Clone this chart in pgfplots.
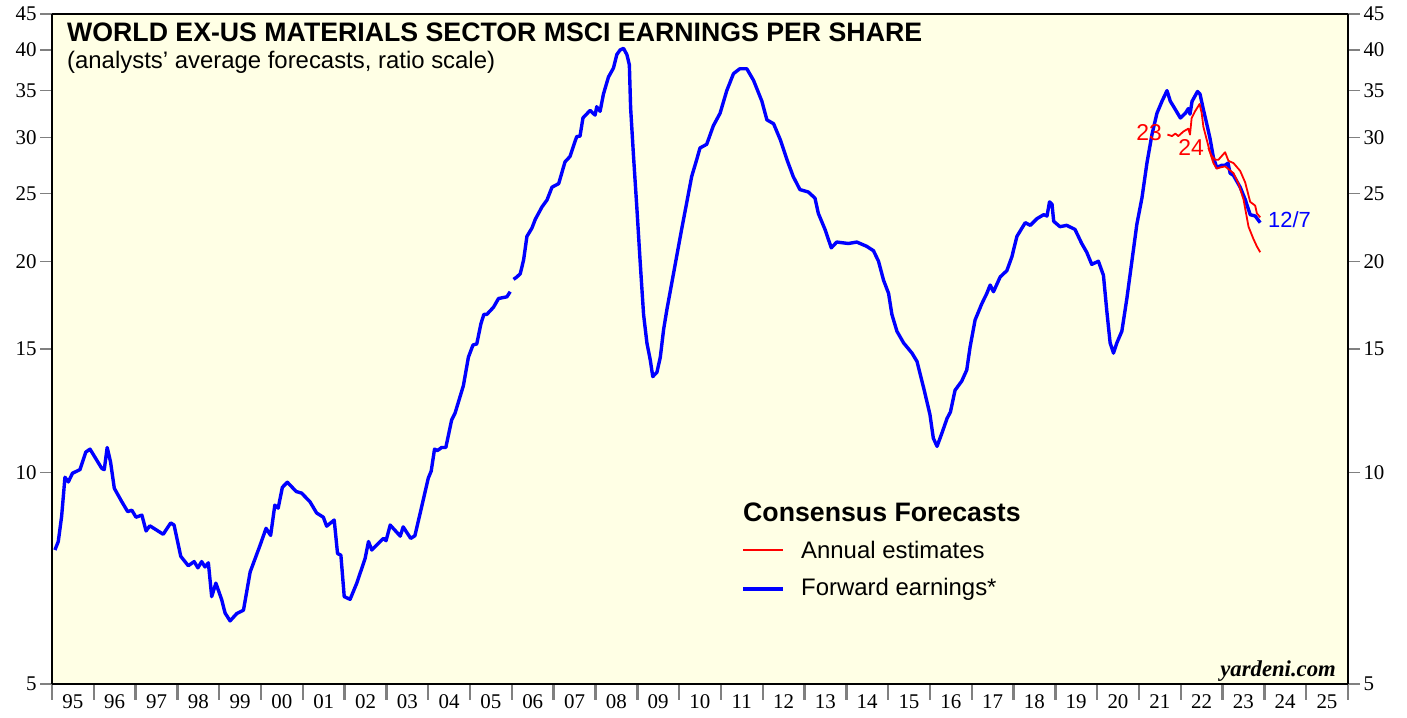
\documentclass[border=0pt]{standalone}
\usepackage{pgfplots}
\pgfplotsset{compat=1.18}
\usepackage{fontspec}
\setmainfont{Liberation Serif}
\newfontfamily\arial{Liberation Sans}
\definecolor{bgyellow}{RGB}{255,255,229}
\definecolor{fblue}{RGB}{0,0,255}
\definecolor{ared}{RGB}{255,0,0}
\begin{document}
\begin{tikzpicture}[x=1bp,y=1bp]
\path[use as bounding box] (-52,-33) rectangle (1355,684);
\begin{axis}[
  at={(0,0)}, anchor=south west,
  scale only axis, width=1296bp, height=670bp,
  xmin=1995, xmax=2026, ymin=5, ymax=45, ymode=log,
  yminorticks=false, xminorticks=false,
  unbounded coords=jump,
  axis background/.style={fill=bgyellow},
  axis line style={line width=2.4bp},
  tick align=outside,
  xtick pos=left,
  ytick=\empty,
  xtick={1995,1996,...,2026}, xticklabels={},
  xtick style={line width=2.4bp},
  major tick length=16bp,
  extra x ticks={1995.5,1996.5,...,2025.5},
  extra x tick labels={95,96,97,98,99,00,01,02,03,04,05,06,07,08,09,10,11,12,13,14,15,16,17,18,19,20,21,22,23,24,25},
  extra x tick style={major tick length=0pt, tick style={draw=none}, xticklabel style={yshift=-7bp}},
  ticklabel style={font=\fontsize{21}{25}\selectfont},
  clip=false,
]
\addplot[fblue, line width=3.4bp, line join=round] coordinates {
(1995.07,7.76) (1995.15,7.98) (1995.23,8.66) (1995.31,9.85) (1995.39,9.70) (1995.49,9.98)
(1995.67,10.10) (1995.81,10.70) (1995.91,10.80) (1996.19,10.14) (1996.25,10.10) (1996.32,10.86)
(1996.40,10.36) (1996.49,9.50) (1996.67,9.09) (1996.81,8.80) (1996.91,8.84) (1997.01,8.64)
(1997.15,8.70) (1997.25,8.26) (1997.34,8.40) (1997.66,8.17) (1997.84,8.48) (1997.92,8.42)
(1998.08,7.60) (1998.26,7.37) (1998.40,7.47) (1998.49,7.32) (1998.58,7.47) (1998.66,7.34)
(1998.74,7.44) (1998.82,6.66) (1998.92,6.96) (1999.06,6.59) (1999.14,6.31) (1999.26,6.15)
(1999.42,6.30) (1999.58,6.37) (1999.74,7.22) (1999.98,7.89) (2000.12,8.33) (2000.23,8.14)
(2000.33,8.99) (2000.41,8.90) (2000.51,9.53) (2000.63,9.69) (2000.84,9.40) (2000.97,9.35)
(2001.17,9.09) (2001.33,8.76) (2001.49,8.64) (2001.57,8.39) (2001.75,8.56) (2001.83,7.67)
(2001.91,7.63) (2001.99,6.66) (2002.13,6.60) (2002.29,6.96) (2002.49,7.55) (2002.57,7.98)
(2002.65,7.76) (2002.85,7.98) (2002.93,8.06) (2002.99,8.00) (2003.09,8.42) (2003.33,8.12)
(2003.40,8.37) (2003.58,8.06) (2003.68,8.13) (2003.84,8.93) (2004.00,9.82) (2004.07,10.05)
(2004.15,10.80) (2004.22,10.75) (2004.32,10.86) (2004.42,10.86) (2004.56,11.89) (2004.64,12.15)
(2004.84,13.30) (2004.96,14.60) (2005.07,15.20) (2005.16,15.25) (2005.26,16.30) (2005.33,16.80)
(2005.40,16.80) (2005.56,17.20) (2005.68,17.70) (2005.88,17.80) (2005.96,18.10)
(2006.00,nan)
(2006.04,18.85) (2006.12,19.00) (2006.20,19.20) (2006.28,20.08) (2006.36,21.70) (2006.48,22.30)
(2006.56,22.95) (2006.72,23.90) (2006.84,24.45) (2006.96,25.50) (2007.12,25.80) (2007.27,27.70)
(2007.39,28.20) (2007.55,30.10) (2007.63,30.15) (2007.70,32.00) (2007.87,32.80) (2007.99,32.30)
(2008.03,33.20) (2008.11,32.70) (2008.19,34.60) (2008.31,36.60) (2008.43,37.70) (2008.51,39.40)
(2008.59,40.00) (2008.67,40.20) (2008.75,39.40) (2008.81,38.10) (2008.84,33.10) (2008.91,28.20)
(2008.99,23.80) (2009.07,19.90) (2009.15,16.80) (2009.23,15.30) (2009.31,14.47) (2009.37,13.70)
(2009.47,13.90) (2009.55,14.60) (2009.63,16.00) (2009.71,17.10) (2009.83,18.70) (2009.94,20.30)
(2010.06,22.20) (2010.18,24.20) (2010.30,26.40) (2010.42,27.90) (2010.50,29.00) (2010.66,29.35)
(2010.82,31.20) (2010.98,32.50) (2011.14,35.00) (2011.30,37.00) (2011.45,37.60) (2011.62,37.60)
(2011.78,36.20) (2011.98,33.80) (2012.10,31.80) (2012.26,31.40) (2012.42,29.80) (2012.58,27.90)
(2012.73,26.40) (2012.89,25.30) (2013.09,25.10) (2013.25,24.60) (2013.33,23.40) (2013.49,22.20)
(2013.64,20.90) (2013.77,21.30) (2014.05,21.20) (2014.25,21.30) (2014.49,21.00) (2014.65,20.70)
(2014.77,20.00) (2014.89,18.80) (2015.01,18.00) (2015.09,16.80) (2015.21,15.90) (2015.37,15.30)
(2015.57,14.80) (2015.69,14.40) (2015.85,13.20) (2016.00,12.10) (2016.08,11.20) (2016.17,10.90)
(2016.29,11.40) (2016.41,11.95) (2016.49,12.20) (2016.60,13.10) (2016.76,13.50) (2016.88,14.00)
(2016.96,15.10) (2017.08,16.50) (2017.24,17.40) (2017.36,18.00) (2017.44,18.50) (2017.52,18.10)
(2017.68,19.00) (2017.84,19.40) (2017.96,20.30) (2018.08,21.70) (2018.28,22.70) (2018.40,22.50)
(2018.56,23.00) (2018.72,23.30) (2018.80,23.20) (2018.86,24.30) (2018.92,24.10) (2018.96,22.80)
(2019.11,22.40) (2019.27,22.50) (2019.47,22.20) (2019.63,21.20) (2019.75,20.60) (2019.87,19.80)
(2020.03,20.00) (2020.15,19.10) (2020.23,17.00) (2020.31,15.30) (2020.39,14.80) (2020.47,15.30)
(2020.59,15.90) (2020.71,17.70) (2020.83,20.00) (2020.95,22.60) (2021.07,24.60) (2021.19,27.60)
(2021.31,30.30) (2021.43,32.50) (2021.55,33.80) (2021.67,35.00) (2021.75,33.80) (2021.83,33.20)
(2021.99,32.00) (2022.11,32.50) (2022.18,33.00) (2022.22,32.40) (2022.27,33.80) (2022.40,34.90)
(2022.46,34.60) (2022.54,32.90) (2022.62,31.40) (2022.70,29.90) (2022.78,28.10) (2022.86,27.20)
(2022.98,27.40) (2023.06,27.40) (2023.13,27.60) (2023.18,26.70) (2023.26,26.50) (2023.42,25.50)
(2023.54,24.50) (2023.66,23.30) (2023.78,23.20) (2023.90,22.70)
};
\addplot[ared, line width=1.8bp, line join=round] coordinates {
(2021.68,30.30) (2021.79,30.15) (2021.87,30.40) (2021.94,30.15) (2022.06,30.60) (2022.18,30.90)
(2022.22,30.30) (2022.26,32.00) (2022.34,32.70) (2022.45,33.50) (2022.50,32.50) (2022.54,31.10)
(2022.62,29.80) (2022.69,28.70) (2022.78,27.60) (2022.86,27.10) (2022.94,27.20) (2023.06,27.30)
(2023.26,26.70) (2023.38,25.80) (2023.50,24.50) (2023.62,22.40) (2023.74,21.50) (2023.82,21.00)
(2023.90,20.60)
};
\addplot[ared, line width=1.8bp, line join=round] coordinates {
(2022.66,29.00) (2022.73,28.30) (2022.82,27.90) (2022.90,27.90) (2023.06,28.60) (2023.14,27.80)
(2023.26,27.60) (2023.42,26.90) (2023.54,25.90) (2023.66,24.30) (2023.78,24.00) (2023.82,23.40)
(2023.90,23.10)
};
\end{axis}
\begin{axis}[
  at={(0,0)}, anchor=south west,
  scale only axis, width=1296bp, height=670bp,
  xmin=1995, xmax=2026, ymin=5, ymax=45, ymode=log,
  yminorticks=false,
  axis x line=none, axis y line*=left,
  axis line style={line width=2.4bp, -},
  tick align=outside,
  ytick={5,10,15,20,25,30,35,40,45},
  yticklabels={5,10,15,20,25,30,35,40,45},
  ytick style={line width=1.4bp},
  major tick length=12bp,
  ticklabel style={font=\fontsize{21}{25}\selectfont},
]
\addplot[draw=none] coordinates {(2000,10)};
\end{axis}
\begin{axis}[
  at={(0,0)}, anchor=south west,
  scale only axis, width=1296bp, height=670bp,
  xmin=1995, xmax=2026, ymin=5, ymax=45, ymode=log,
  yminorticks=false,
  axis x line=none, axis y line*=right,
  axis line style={line width=2.4bp, -},
  tick align=outside,
  ytick={5,10,15,20,25,30,35,40,45},
  yticklabels={5,10,15,20,25,30,35,40,45},
  ytick style={line width=1.4bp},
  major tick length=12bp,
  ticklabel style={font=\fontsize{21}{25}\selectfont},
]
\addplot[draw=none] coordinates {(2000,10)};
\end{axis}
\node[anchor=base west, inner sep=0, font=\arial\bfseries\fontsize{26.8}{30}\selectfont] at (15,642) {WORLD EX-US MATERIALS SECTOR MSCI EARNINGS PER SHARE};
\node[anchor=base west, inner sep=0, font=\arial\fontsize{24}{28}\selectfont] at (15,615) {(analysts’ average forecasts, ratio scale)};
\node[anchor=base west, inner sep=0, font=\arial\bfseries\fontsize{26.8}{30}\selectfont] at (691,162) {Consensus Forecasts};
\draw[ared, line width=1.8bp] (691,134) -- (731,134);
\node[anchor=west, inner sep=0, font=\arial\fontsize{24}{28}\selectfont] at (749,134) {Annual estimates};
\draw[fblue, line width=3.4bp] (691,95) -- (731,95);
\node[anchor=west, inner sep=0, font=\arial\fontsize{24}{28}\selectfont] at (749,95) {Forward earnings*};
\node[anchor=base east, inner sep=0, font=\bfseries\itshape\fontsize{22.8}{26}\selectfont] at (1284,7) {yardeni.com};
\node[ared, inner sep=0, font=\arial\fontsize{23}{27}\selectfont] at (1097,551) {23};
\node[ared, inner sep=0, font=\arial\fontsize{23}{27}\selectfont] at (1139,536) {24};
\node[fblue, anchor=west, inner sep=0, font=\arial\fontsize{22}{26}\selectfont] at (1216,464) {12/7};
\end{tikzpicture}
\end{document}
